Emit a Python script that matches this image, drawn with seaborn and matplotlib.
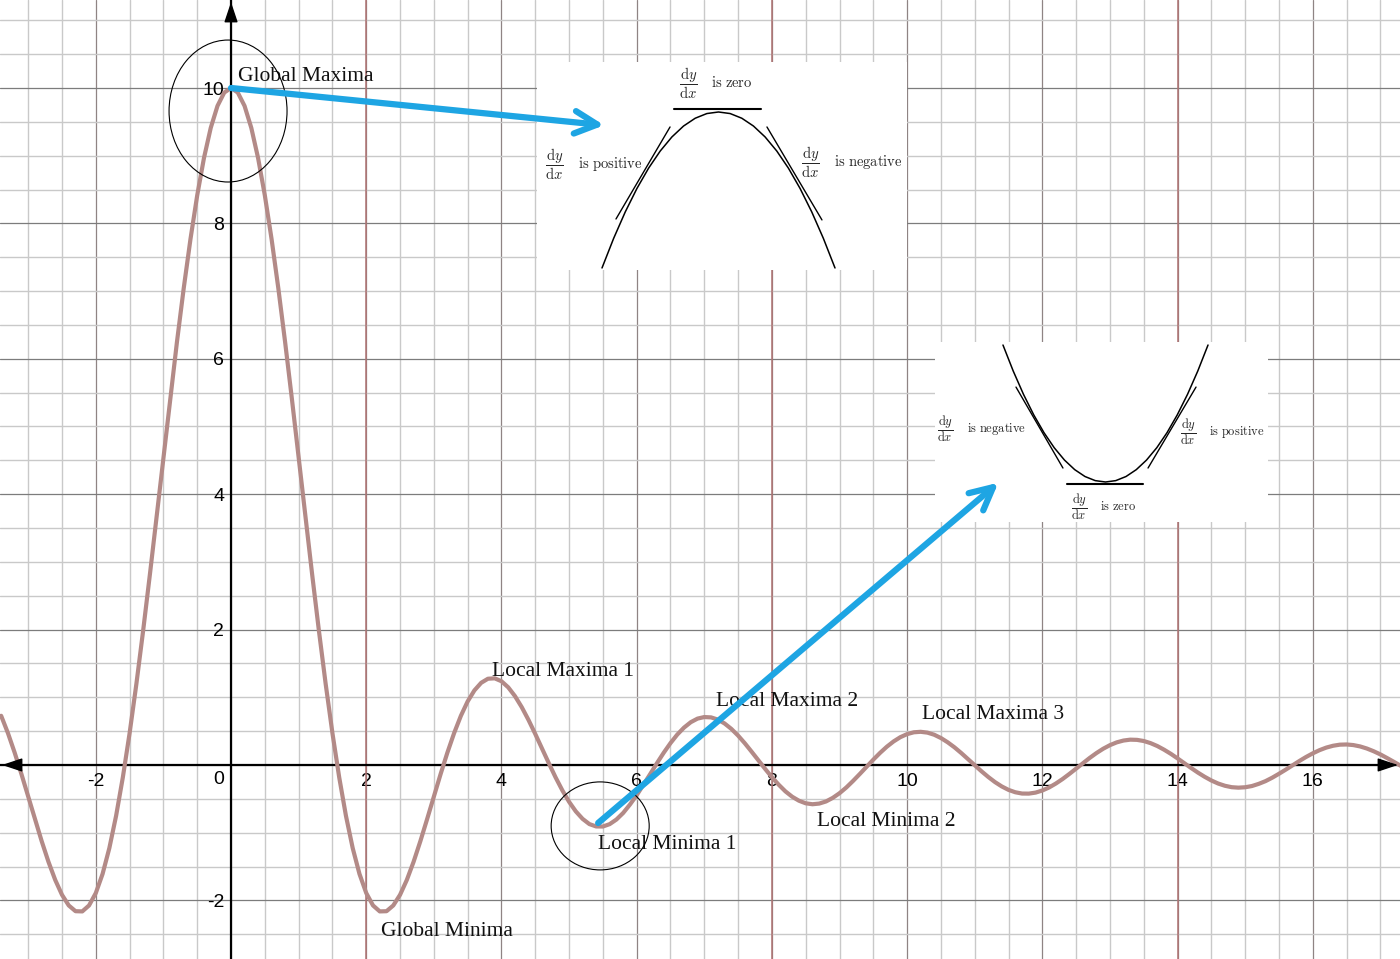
import matplotlib
matplotlib.use("Agg")
import matplotlib.pyplot as plt
import seaborn as sns
from matplotlib.patches import Ellipse

# ---------------- data ----------------
curve_x = [-3.4, -3.3, -3.2, -3.1, -3.0, -2.9, -2.8, -2.7, -2.6, -2.5,
           -2.4, -2.3, -2.2, -2.1, -2.0, -1.9, -1.8, -1.7, -1.6, -1.5,
           -1.4, -1.3, -1.2, -1.1, -1.0, -0.9, -0.8, -0.7, -0.6, -0.5,
           -0.4, -0.3, -0.2, -0.1, 0.0, 0.1, 0.2, 0.3, 0.4, 0.5,
           0.6, 0.7, 0.8, 0.9, 1.0, 1.1, 1.2, 1.3, 1.4, 1.5,
           1.6, 1.7, 1.8, 1.9, 2.0, 2.1, 2.2, 2.3, 2.4, 2.5,
           2.6, 2.7, 2.8, 2.9, 3.0, 3.1, 3.2, 3.3, 3.4, 3.5,
           3.6, 3.7, 3.8, 3.9, 4.0, 4.1, 4.2, 4.3, 4.4, 4.5,
           4.6, 4.7, 4.8, 4.9, 5.0, 5.1, 5.2, 5.3, 5.4, 5.5,
           5.6, 5.7, 5.8, 5.9, 6.0, 6.1, 6.2, 6.3, 6.4, 6.5,
           6.6, 6.7, 6.8, 6.9, 7.0, 7.1, 7.2, 7.3, 7.4, 7.5,
           7.6, 7.7, 7.8, 7.9, 8.0, 8.1, 8.2, 8.3, 8.4, 8.5,
           8.6, 8.7, 8.8, 8.9, 9.0, 9.1, 9.2, 9.3, 9.4, 9.5,
           9.6, 9.7, 9.8, 9.9, 10.0, 10.1, 10.2, 10.3, 10.4, 10.5,
           10.6, 10.7, 10.8, 10.9, 11.0, 11.1, 11.2, 11.3, 11.4, 11.5,
           11.6, 11.7, 11.8, 11.9, 12.0, 12.1, 12.2, 12.3, 12.4, 12.5,
           12.6, 12.7, 12.8, 12.9, 13.0, 13.1, 13.2, 13.3, 13.4, 13.5,
           13.6, 13.7, 13.8, 13.9, 14.0, 14.1, 14.2, 14.3, 14.4, 14.5,
           14.6, 14.7, 14.8, 14.9, 15.0, 15.1, 15.2, 15.3, 15.4, 15.5,
           15.6, 15.7, 15.8, 15.9, 16.0, 16.1, 16.2, 16.3, 16.4, 16.5,
           16.6, 16.7, 16.8, 16.9, 17.0, 17.1, 17.2, 17.3, 17.4]
curve_y = [0.727, 0.472, 0.182, -0.134, -0.466, -0.801, -1.127, -1.431, -1.699, -1.918,
           -2.075, -2.160, -2.163, -2.075, -1.892, -1.610, -1.229, -0.752, -0.182, 0.470,
           1.196, 1.983, 2.814, 3.675, 4.546, 5.410, 6.247, 7.039, 7.767, 8.415,
           8.967, 9.411, 9.736, 9.933, 10.0, 9.933, 9.736, 9.411, 8.967, 8.415,
           7.767, 7.039, 6.247, 5.410, 4.546, 3.675, 2.814, 1.983, 1.196, 0.470,
           -0.182, -0.752, -1.229, -1.610, -1.892, -2.075, -2.163, -2.160, -2.075, -1.918,
           -1.699, -1.431, -1.127, -0.801, -0.466, -0.134, 0.182, 0.472, 0.727, 0.939,
           1.102, 1.214, 1.274, 1.280, 1.237, 1.147, 1.017, 0.854, 0.665, 0.458,
           0.242, 0.027, -0.182, -0.374, -0.544, -0.686, -0.796, -0.873, -0.908, -0.909,
           -0.874, -0.806, -0.709, -0.585, -0.447, -0.291, -0.134, 0.027, 0.181, 0.323,
           0.449, 0.552, 0.632, 0.685, 0.708, 0.703, 0.671, 0.613, 0.533, 0.434,
           0.320, 0.196, 0.069, -0.058, -0.180, -0.291, -0.390, -0.469, -0.528, -0.566,
           -0.580, -0.570, -0.539, -0.486, -0.417, -0.333, -0.236, -0.133, -0.026, 0.079,
           0.179, 0.270, 0.348, 0.411, 0.456, 0.483, 0.490, 0.478, 0.447, 0.398,
           0.335, 0.261, 0.177, 0.087, -0.004, -0.093, -0.177, -0.253, -0.317, -0.368,
           -0.403, -0.422, -0.423, -0.408, -0.377, -0.332, -0.274, -0.207, -0.132, -0.053,
           0.027, 0.104, 0.176, 0.240, 0.293, 0.334, 0.361, 0.374, 0.371, 0.354,
           0.323, 0.280, 0.226, 0.165, 0.097, 0.026, -0.044, -0.112, -0.174, -0.229,
           -0.274, -0.307, -0.328, -0.335, -0.329, -0.311, -0.279, -0.239, -0.188, -0.130,
           -0.069, -0.005, 0.058, 0.118, 0.172, 0.219, 0.257, 0.284, 0.300, 0.303,
           0.294, 0.274, 0.243, 0.203, 0.156, 0.102, 0.046, -0.012, -0.069]

x_tick_vals = [-2, 2, 4, 6, 8, 10, 12, 14, 16]
x_tick_labels = ["-2", "2", "4", "6", "8", "10", "12", "14", "16"]
y_tick_vals = [-2, 2, 4, 6, 8, 10]
y_tick_labels = ["-2", "2", "4", "6", "8", "10"]
origin_label = "0"
red_grid_x = [2, 8, 14]

point_labels = ["Global Maxima", "Local Maxima 1", "Local Maxima 2", "Local Maxima 3",
                "Local Minima 1", "Local Minima 2", "Global Minima"]
point_label_pos = [(0.10, 10.10), (3.86, 1.31), (7.17, 0.87), (10.22, 0.68),
                   (5.43, -1.24), (8.67, -0.90), (2.22, -2.53)]

# inset illustrations: unit parabola
para_x = [-1.0, -0.9, -0.8, -0.7, -0.6, -0.5, -0.4, -0.3, -0.2, -0.1, 0.0,
          0.1, 0.2, 0.3, 0.4, 0.5, 0.6, 0.7, 0.8, 0.9, 1.0]
para_sq = [1.0, 0.81, 0.64, 0.49, 0.36, 0.25, 0.16, 0.09, 0.04, 0.01, 0.0,
           0.01, 0.04, 0.09, 0.16, 0.25, 0.36, 0.49, 0.64, 0.81, 1.0]
frac_txt = r"$\dfrac{\mathrm{d}y}{\mathrm{d}x}$"
word_zero = r"$\mathrm{is\ zero}$"
word_pos = r"$\mathrm{is\ positive}$"
word_neg = r"$\mathrm{is\ negative}$"

# ---------------- style ----------------
sns.set_theme(style="white")
plt.rcParams["font.family"] = ["Liberation Sans", "DejaVu Sans"]
plt.rcParams["mathtext.fontset"] = "cm"

CURVE = "#b38a87"
BLUE = "#1ea5e3"

fig = plt.figure(figsize=(14, 9.59), dpi=100)
XLIM = (-3.417, 17.29)
YLIM = (-2.866, 11.30)

ax = fig.add_axes([0, 0, 1, 1], zorder=0)
ax.set_facecolor("white")

ax.set_xticks(x_tick_vals)
ax.set_xticklabels(x_tick_labels)
ax.set_yticks(y_tick_vals)
ax.set_yticklabels(y_tick_labels)
minor_x = [v * 0.5 for v in range(-7, 36)]
minor_y = [v * 0.5 for v in range(-6, 23)]
ax.set_xticks(minor_x, minor=True)
ax.set_yticks(minor_y, minor=True)
ax.set_xlim(*XLIM)
ax.set_ylim(*YLIM)
ax.set_axisbelow(True)
ax.grid(which="minor", color="#c9c9c9", lw=1.0)
ax.grid(which="major", axis="y", color="#7c7c7c", lw=0.9)
ax.grid(which="major", axis="x", color="#8f8484", lw=0.9)
for xv in red_grid_x:
    ax.axvline(xv, color="#b07474", lw=1.1, zorder=1)

for side in ["top", "right"]:
    ax.spines[side].set_visible(False)
for side in ["left", "bottom"]:
    ax.spines[side].set_position(("data", 0))
    ax.spines[side].set_color("black")
    ax.spines[side].set_linewidth(1.6)
    ax.spines[side].set_zorder(3)
ax.tick_params(which="both", length=0, labelsize=14, colors="black")
ax.tick_params(axis="x", pad=6)
ax.tick_params(axis="y", pad=5)
ax.text(-0.18, -0.21, origin_label, ha="center", va="center", fontsize=14, color="black")

# axis arrowheads
head = dict(arrowstyle="-|>,head_length=0.42,head_width=0.14", color="black",
            lw=1.0, mutation_scale=30, shrinkA=0, shrinkB=0)
ax.annotate("", xy=(XLIM[0] + 0.03, 0), xytext=(XLIM[0] + 0.5, 0), arrowprops=head,
            annotation_clip=False, zorder=6)
ax.annotate("", xy=(XLIM[1] - 0.03, 0), xytext=(XLIM[1] - 0.5, 0), arrowprops=head,
            annotation_clip=False, zorder=6)
ax.annotate("", xy=(0, YLIM[1] - 0.03), xytext=(0, YLIM[1] - 0.5), arrowprops=head,
            annotation_clip=False, zorder=6)

sns.lineplot(x=curve_x, y=curve_y, ax=ax, color=CURVE, lw=3.0, estimator=None,
             sort=False, zorder=4)
ax.set_xlim(*XLIM)
ax.set_ylim(*YLIM)

for txt, (tx, ty) in zip(point_labels, point_label_pos):
    ax.text(tx, ty, txt, family=["Liberation Serif", "DejaVu Serif"], fontsize=15.5,
            ha="left", va="baseline", color="#111111", zorder=5)

ax.add_patch(Ellipse((-0.044, 9.66), 1.745, 2.097, fill=False, ec="black", lw=0.8, zorder=6))
ax.add_patch(Ellipse((5.46, -0.90), 1.45, 1.30, fill=False, ec="black", lw=0.8, zorder=6))


def clean(a):
    a.set_xticks([])
    a.set_yticks([])
    for s in a.spines.values():
        s.set_visible(False)
    a.set_facecolor("white")
    a.grid(False)


# ---------------- inset 1: maximum ----------------
in1 = fig.add_axes([537 / 1400, 1 - 270 / 959, 370 / 1400, 208 / 959], zorder=1)
clean(in1)
in1.plot(para_x, [-v for v in para_sq], color="black", lw=1.1)
in1.plot([-0.382, 0.365], [0.019, 0.019], color="black", lw=1.5)
in1.plot([-0.88, -0.416], [-0.686, -0.096], color="black", lw=1.0)
in1.plot([0.416, 0.888], [-0.096, -0.692], color="black", lw=1.0)
in1.set_xlim(-1.558, 1.618)
in1.set_ylim(-1.013, 0.3205)
f1 = 10.5
in1.text(-0.262, 0.186, frac_txt, fontsize=f1, ha="center", va="center")
in1.text(0.116, 0.186, word_zero, fontsize=f1, ha="center", va="center")
in1.text(-1.412, -0.333, frac_txt, fontsize=f1, ha="center", va="center")
in1.text(-0.931, -0.333, word_pos, fontsize=f1, ha="center", va="center")
in1.text(0.785, -0.321, frac_txt, fontsize=f1, ha="center", va="center")
in1.text(1.283, -0.321, word_neg, fontsize=f1, ha="center", va="center")

# ---------------- inset 2: minimum ----------------
in2 = fig.add_axes([935 / 1400, 1 - 522 / 959, 333 / 1400, 180 / 959], zorder=1)
clean(in2)
in2.plot(para_x, para_sq, color="black", lw=1.1)
in2.plot([-0.376, 0.366], [-0.015, -0.015], color="black", lw=1.5)
in2.plot([-0.873, -0.415], [0.693, 0.102], color="black", lw=1.0)
in2.plot([0.883, 0.415], [0.693, 0.102], color="black", lw=1.0)
in2.set_xlim(-1.663, 1.585)
in2.set_ylim(-0.292, 1.022)
f2 = 9
in2.text(-1.566, 0.387, frac_txt, fontsize=f2, ha="center", va="center")
in2.text(-1.059, 0.387, word_neg, fontsize=f2, ha="center", va="center")
in2.text(0.805, 0.365, frac_txt, fontsize=f2, ha="center", va="center")
in2.text(1.283, 0.365, word_pos, fontsize=f2, ha="center", va="center")
in2.text(-0.259, -0.182, frac_txt, fontsize=f2, ha="center", va="center")
in2.text(0.122, -0.182, word_zero, fontsize=f2, ha="center", va="center")

# ---------------- overlay: blue arrows ----------------
ov = fig.add_axes([0, 0, 1, 1], zorder=5)
ov.set_xlim(*XLIM)
ov.set_ylim(*YLIM)
ov.axis("off")
blue = dict(arrowstyle="->,head_length=0.9,head_width=0.45", color=BLUE, lw=4.5,
            mutation_scale=18, shrinkA=0, shrinkB=0, capstyle="round")
ov.annotate("", xy=(5.52, 9.45), xytext=(0.0, 10.0), arrowprops=blue)
ov.annotate("", xy=(11.35, 4.17), xytext=(5.43, -0.857), arrowprops=blue)

fig.savefig("out.png", dpi=100)
